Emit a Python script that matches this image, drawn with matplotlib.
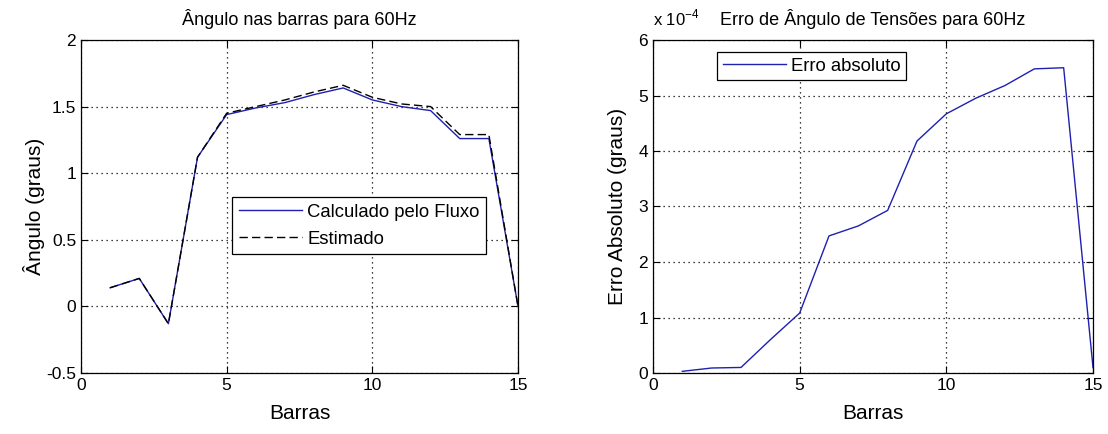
import matplotlib
matplotlib.use("Agg")
import matplotlib.pyplot as plt

plt.rcParams['font.family'] = ['Liberation Sans', 'DejaVu Sans']

barras = list(range(1, 16))
angulo_fluxo = [0.14, 0.21, -0.13, 1.12, 1.44, 1.49, 1.53, 1.59, 1.64, 1.55, 1.50, 1.47, 1.26, 1.26, 0.0]
angulo_estimado = [0.14, 0.21, -0.13, 1.12, 1.45, 1.50, 1.55, 1.61, 1.66, 1.57, 1.52, 1.50, 1.29, 1.29, 0.0]
erro_absoluto = [0.03e-4, 0.09e-4, 0.10e-4, 0.60e-4, 1.08e-4, 2.47e-4, 2.65e-4, 2.93e-4, 4.18e-4,
                 4.67e-4, 4.95e-4, 5.18e-4, 5.48e-4, 5.50e-4, 0.10e-4]

fig = plt.figure(figsize=(11.08, 4.34), dpi=100)
ax1 = fig.add_axes([81/1108, 1-373/434, 437/1108, 333/434])
ax2 = fig.add_axes([653/1108, 1-373/434, 440/1108, 333/434])

line_blue = '#2020b0'


def matlab_style(ax):
    ax.grid(True, linestyle=(0, (1, 3)), color='black', linewidth=0.9)
    ax.tick_params(direction='in', top=True, right=True, labelsize=12.5, length=5, width=0.8)
    for s in ax.spines.values():
        s.set_linewidth(0.9)


ax1.plot(barras, angulo_fluxo, color=line_blue, linewidth=1.0, label='Calculado pelo Fluxo')
ax1.plot(barras, angulo_estimado, color='black', linewidth=1.0, linestyle=(0, (6, 3)), label='Estimado')
ax1.set_xlim(0, 15)
ax1.set_ylim(-0.5, 2)
ax1.set_xticks([0, 5, 10, 15])
ax1.set_yticks([-0.5, 0, 0.5, 1, 1.5, 2])
ax1.set_yticklabels(['-0.5', '0', '0.5', '1', '1.5', '2'])
matlab_style(ax1)
ax1.set_title('Ângulo nas barras para 60Hz', fontsize=13, pad=11)
ax1.set_xlabel('Barras', fontsize=15, labelpad=8)
ax1.set_ylabel('Ângulo (graus)', fontsize=15, labelpad=1)
leg1 = ax1.legend(loc='upper left', bbox_to_anchor=(142/437, 1-(188-40)/333), fontsize=13.3,
                  fancybox=False, edgecolor='black', framealpha=1, handlelength=3.4,
                  borderpad=0.35, labelspacing=0.55, handletextpad=0.3)
leg1.get_frame().set_linewidth(0.9)

ax2.plot(barras, erro_absoluto, color=line_blue, linewidth=1.0, label='Erro absoluto')
ax2.set_xlim(0, 15)
ax2.set_ylim(0, 6e-4)
ax2.set_xticks([0, 5, 10, 15])
ax2.set_yticks([i * 1e-4 for i in range(7)])
ax2.set_yticklabels([str(i) for i in range(7)])
matlab_style(ax2)
ax2.set_title('Erro de Ângulo de Tensões para 60Hz', fontsize=13, pad=11, x=0.5)
ax2.text(0.0, 1.035, r'x 10$^{\mathregular{-4}}$', transform=ax2.transAxes, fontsize=12,
         ha='left', va='bottom')
ax2.set_xlabel('Barras', fontsize=15, labelpad=8)
ax2.set_ylabel('Erro Absoluto (graus)', fontsize=15, labelpad=8)
leg2 = ax2.legend(loc='upper left', bbox_to_anchor=(55/440, 1-(43-40)/333), fontsize=13.3,
                  fancybox=False, edgecolor='black', framealpha=1, handlelength=3.4,
                  borderpad=0.3, handletextpad=0.3)
leg2.get_frame().set_linewidth(0.9)

fig.savefig('out.png', dpi=100)
